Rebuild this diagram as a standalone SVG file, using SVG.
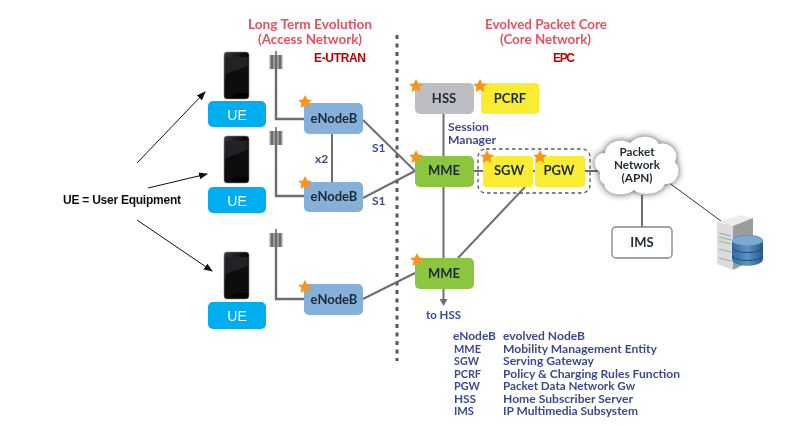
<svg xmlns="http://www.w3.org/2000/svg" xmlns:xlink="http://www.w3.org/1999/xlink" width="801" height="426" viewBox="0 0 801 426">
<style>
text{font-family:Lato,"Open Sans","Liberation Sans",sans-serif;font-weight:700}
.n{font-size:13px;fill:#1f2a33;text-anchor:middle}
.c{font-size:10.8px;fill:#1f2a33;text-anchor:middle}
.arial{font-family:"Liberation Sans",Arial,sans-serif;font-weight:700}
.title{font-size:12.5px;fill:#ee4f60;text-anchor:middle}
.navy{font-size:12px;fill:#3c4a8e}
.leg{font-size:10.4px;fill:#3c4a8e}
.red{font-size:12px;fill:#c00000}
.blue{fill:#85b0da}.green{fill:#8cc63f}.yellow{fill:#f9ec31}.grey{fill:#bcbec4}
.ue{fill:#00aeef}
.uet{font-family:"Liberation Sans",Arial,sans-serif;font-size:14px;font-weight:400;fill:#fff;text-anchor:middle}
.conn{stroke:#6d6e71;stroke-width:2;fill:none}
.ptr{stroke:#111;stroke-width:1;fill:none;marker-end:url(#ah)}
.ant{stroke:#6d6e71;stroke-width:2.4;fill:none}
</style>
<defs>
<filter id="soft" x="-2%" y="-2%" width="104%" height="104%"><feGaussianBlur stdDeviation="0.4"/></filter>
<filter id="sh" x="-20%" y="-20%" width="140%" height="140%"><feGaussianBlur stdDeviation="3.5"/></filter>
<marker id="ah" markerWidth="9" markerHeight="8" refX="8" refY="3.5" orient="auto" markerUnits="userSpaceOnUse"><path d="M0 0L9 3.5L0 7z" fill="#111"/></marker>
<linearGradient id="ph" x1="0" y1="0" x2="1" y2="1"><stop offset="0" stop-color="#3a3a3e"/><stop offset=".45" stop-color="#0a0a0d"/><stop offset="1" stop-color="#000"/></linearGradient>
<linearGradient id="db" x1="0" y1="0" x2="1" y2="0"><stop offset="0" stop-color="#2f6ba3"/><stop offset=".5" stop-color="#5f93c4"/><stop offset="1" stop-color="#27598c"/></linearGradient>
<path id="star" d="M0-7L2.300-2.500L7-2.100L3.500 1.100L4.400 6L0 3.600L-4.400 6L-3.500 1.100L-7-2.100L-2.300-2.500z" fill="#f7941d"/>
<g id="phone"><rect x="0" y="0" width="25" height="47" rx="3" fill="url(#ph)" stroke="#8a8a8a" stroke-width=".6"/><rect x="1.500" y="5" width="22" height="36" fill="#0c0c10"/><path d="M1.500 5H23.500V14L1.500 22z" fill="#fff" opacity=".1"/></g>
<g id="antenna"><rect x="-6.500" y="4" width="13" height="14" fill="#9a9b9d"/><path d="M-4 4V18M0 0V18M4 4V18" stroke="#58595b" stroke-width="1.400" fill="none"/></g>
</defs>
<g filter="url(#soft)">
<g id="divider"><line x1="397" y1="35" x2="397" y2="361" stroke="#58595b" stroke-width="3" stroke-dasharray="4 4.500"/></g>
<g id="connectors">
<path class="ant" d="M276 66V119H304"/>
<path class="ant" d="M276 142V196H304"/>
<path class="ant" d="M276 244V299H304"/>
<path class="conn" d="M332 134V182"/>
<path class="conn" d="M363 120L415 171"/>
<path class="conn" d="M363 198L415 171"/>
<path class="conn" d="M363 299L415 273"/>
<path class="conn" d="M443.500 114V156"/>
<path class="conn" d="M443.500 187V258"/>
<path class="conn" d="M474 171H483"/>
<path class="conn" d="M533 171H535"/>
<path class="conn" d="M585 171H598"/>
<path class="conn" d="M525 187L458 258"/>
<path class="conn" d="M443.500 289V300"/>
<path d="M439.500 299H447.500L443.500 306z" fill="#6d6e71"/>
<path class="conn" d="M642 195V227"/>
<path d="M668 182L721 221" stroke="#333" stroke-width="1" fill="none"/>
<path class="ptr" d="M137 163L205 92"/>
<path class="ptr" d="M148 188L207 174"/>
<path class="ptr" d="M137 220L212 271"/>
</g>
<rect x="478" y="149" width="112" height="44" rx="8" fill="none" stroke="#58595b" stroke-width="1.300" stroke-dasharray="3.500 3"/>
<g id="ue1"><use xlink:href="#phone" href="#phone" x="224" y="52"/><rect class="ue" x="208" y="101" width="58" height="26" rx="5"/><text class="uet" x="237" y="120">UE</text></g>
<g id="ue2"><use xlink:href="#phone" href="#phone" x="224" y="136"/><rect class="ue" x="208" y="187" width="58" height="26" rx="5"/><text class="uet" x="237" y="206">UE</text></g>
<g id="ue3"><use xlink:href="#phone" href="#phone" x="224" y="252"/><rect class="ue" x="208" y="302" width="58" height="27" rx="5"/><text class="uet" x="237" y="321">UE</text></g>
<g id="antenna1"><use xlink:href="#antenna" href="#antenna" x="276" y="51"/></g>
<g id="antenna2"><use xlink:href="#antenna" href="#antenna" x="276" y="127"/></g>
<g id="antenna3"><use xlink:href="#antenna" href="#antenna" x="276" y="229"/></g>
<g id="enb1"><rect class="blue" x="304" y="103" width="59" height="31" rx="5"/><use xlink:href="#star" href="#star" x="305" y="102"/><text class="n" x="334" y="123">eNodeB</text></g>
<g id="enb2"><rect class="blue" x="304" y="182" width="59" height="30" rx="5"/><use xlink:href="#star" href="#star" x="305" y="183"/><text class="n" x="334" y="201">eNodeB</text></g>
<g id="enb3"><rect class="blue" x="304" y="284" width="59" height="31" rx="5"/><use xlink:href="#star" href="#star" x="305" y="287"/><text class="n" x="334" y="304">eNodeB</text></g>
<g id="hss"><rect class="grey" x="415" y="83" width="59" height="31" rx="5"/><use xlink:href="#star" href="#star" x="416" y="86"/><text class="n" x="444" y="103">HSS</text></g>
<g id="pcrf"><rect class="yellow" x="481" y="83" width="58" height="31" rx="4"/><use xlink:href="#star" href="#star" x="480" y="86"/><text class="n" x="510" y="103">PCRF</text></g>
<g id="mme1"><rect class="green" x="415" y="156" width="59" height="31" rx="5"/><use xlink:href="#star" href="#star" x="416" y="157"/><text class="n" x="444" y="175">MME</text></g>
<g id="sgw"><rect class="yellow" x="483" y="156" width="50" height="31" rx="4"/><use xlink:href="#star" href="#star" x="487" y="157"/><text class="n" x="509" y="175">SGW</text></g>
<g id="pgw"><rect class="yellow" x="535" y="156" width="50" height="31" rx="4"/><use xlink:href="#star" href="#star" x="540" y="157"/><text class="n" x="559" y="175">PGW</text></g>
<g id="mme2"><rect class="green" x="415" y="258" width="59" height="31" rx="5"/><use xlink:href="#star" href="#star" x="417" y="260"/><text class="n" x="444" y="278">MME</text></g>
<g id="apn">
<path d="M600 172C591 166 594 153 605 153C605 142 622 137 630 143C638 134 655 135 659 144C670 141 680 152 675 162C683 170 677 185 665 184C660 196 640 196 634 190C625 198 605 195 604 184C600 182 599 177 600 172z" fill="#2a2a30" opacity=".85" filter="url(#sh)"/>
<path d="M600 172C591 166 594 153 605 153C605 142 622 137 630 143C638 134 655 135 659 144C670 141 680 152 675 162C683 170 677 185 665 184C660 196 640 196 634 190C625 198 605 195 604 184C600 182 599 177 600 172z" fill="#fff"/>
<text class="c" x="637" y="156" textLength="35" lengthAdjust="spacingAndGlyphs">Packet</text><text class="c" x="637" y="169" textLength="46" lengthAdjust="spacingAndGlyphs">Network</text><text class="c" x="637" y="182" textLength="31" lengthAdjust="spacingAndGlyphs">(APN)</text>
</g>
<g id="ims"><rect x="612" y="227" width="60" height="31" rx="4" fill="#fff" stroke="#808285" stroke-width="1.300"/><text class="n" x="642" y="247">IMS</text></g>
<g id="server">
<path d="M717 222L741 215L753 218L733 226z" fill="#ececec"/>
<path d="M717 222L733 226V270L717 264z" fill="#dcdcdc"/>
<path d="M733 226L753 218V260L733 270z" fill="#9c9c9c"/>
<path d="M719 233L731 236M719 237L731 240M719 241L731 244M719 249L731 252M719 258L731 261" stroke="#8a8a8a" stroke-width=".7"/>
<path d="M732 241C732 233 763 233 763 241V259C763 268 732 268 732 259z" fill="url(#db)"/>
<ellipse cx="747.500" cy="240.500" rx="15.500" ry="5" fill="#7fa9d0"/>
<path d="M732 248C736 254 759 254 763 248M732 256C736 262 759 262 763 256" stroke="#1f4c7a" stroke-width="1" fill="none"/>
</g>
<g id="labels">
<text class="title" x="310" y="28.500" textLength="124" lengthAdjust="spacingAndGlyphs">Long Term Evolution</text>
<text class="title" x="310" y="43.500" textLength="104" lengthAdjust="spacingAndGlyphs">(Access Network)</text>
<text class="title" x="546" y="28.500" textLength="122" lengthAdjust="spacingAndGlyphs">Evolved Packet Core</text>
<text class="title" x="545.500" y="43.500" textLength="91" lengthAdjust="spacingAndGlyphs">(Core Network)</text>
<text class="red arial" x="314" y="62" textLength="52">E-UTRAN</text>
<text class="red arial" x="553" y="62" textLength="22">EPC</text>
<text class="navy" x="372" y="152">S1</text>
<text class="navy" x="372" y="205">S1</text>
<text class="navy" x="315" y="163">x2</text>
<text class="leg" x="448" y="131" textLength="41" lengthAdjust="spacingAndGlyphs">Session</text>
<text class="leg" x="448" y="143.500" textLength="48" lengthAdjust="spacingAndGlyphs">Manager</text>
<text class="navy" x="426" y="319" textLength="35" lengthAdjust="spacingAndGlyphs">to HSS</text>
<text class="arial" x="63" y="204" textLength="118" style="font-size:12px;fill:#111">UE = User Equipment</text>
</g>
<g id="legend">
<text class="leg" x="453" y="340" textLength="43" lengthAdjust="spacingAndGlyphs">eNodeB</text><text class="leg" x="503" y="340" textLength="82" lengthAdjust="spacingAndGlyphs">evolved NodeB</text>
<text class="leg" x="454" y="352.500" textLength="27" lengthAdjust="spacingAndGlyphs">MME</text><text class="leg" x="503" y="352.500" textLength="154" lengthAdjust="spacingAndGlyphs">Mobility Management Entity</text>
<text class="leg" x="454" y="365" textLength="25" lengthAdjust="spacingAndGlyphs">SGW</text><text class="leg" x="503" y="365" textLength="91" lengthAdjust="spacingAndGlyphs">Serving Gateway</text>
<text class="leg" x="454" y="377.500" textLength="27" lengthAdjust="spacingAndGlyphs">PCRF</text><text class="leg" x="503" y="377.500" textLength="177" lengthAdjust="spacingAndGlyphs">Policy &amp; Charging Rules Function</text>
<text class="leg" x="454" y="390" textLength="26" lengthAdjust="spacingAndGlyphs">PGW</text><text class="leg" x="503" y="390" textLength="132" lengthAdjust="spacingAndGlyphs">Packet Data Network Gw</text>
<text class="leg" x="454" y="402.500" textLength="22" lengthAdjust="spacingAndGlyphs">HSS</text><text class="leg" x="503" y="402.500" textLength="130" lengthAdjust="spacingAndGlyphs">Home Subscriber Server</text>
<text class="leg" x="454" y="415" textLength="20" lengthAdjust="spacingAndGlyphs">IMS</text><text class="leg" x="503" y="415" textLength="135" lengthAdjust="spacingAndGlyphs">IP Multimedia Subsystem</text>
</g>
</g>
</svg>
